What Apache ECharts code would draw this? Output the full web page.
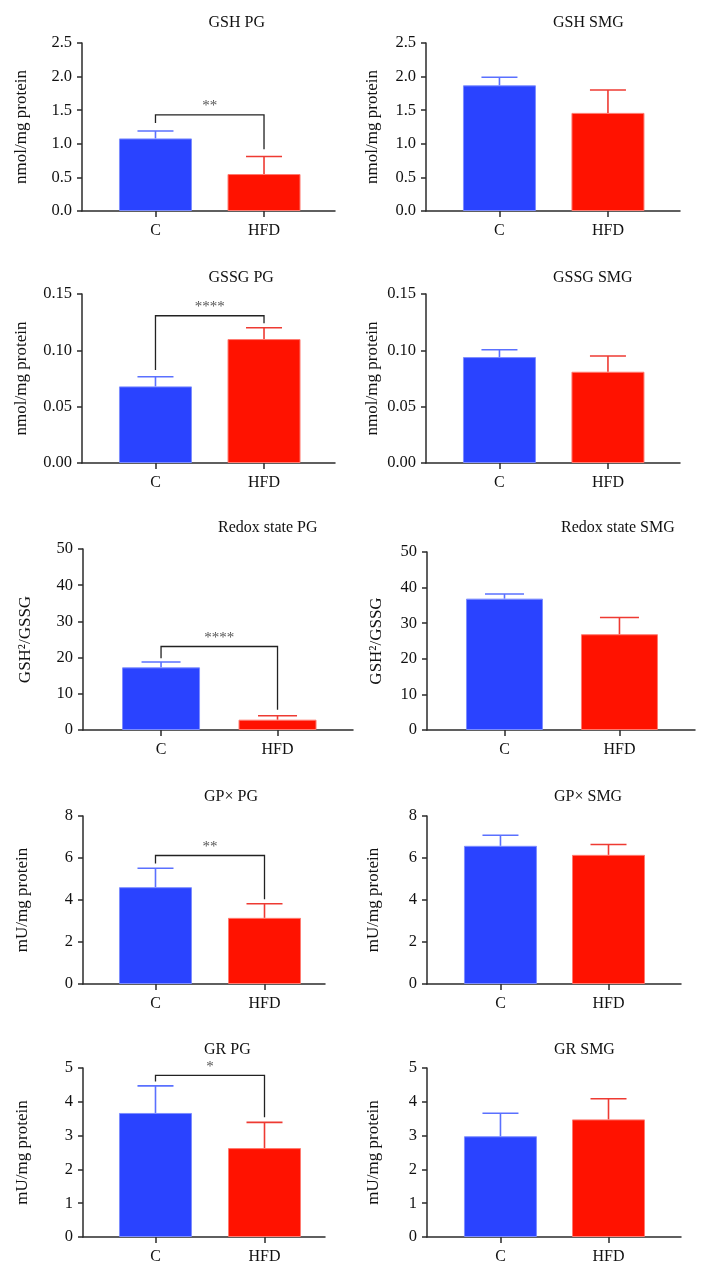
<!DOCTYPE html>
<html>
<head>
<meta charset="utf-8">
<script src="https://cdn.jsdelivr.net/npm/echarts@6/dist/echarts.min.js"></script>
<style>
html,body{margin:0;padding:0;background:#fff;}
#chart{width:706px;height:1271px;}
</style>
</head>
<body>
<div id="chart"></div>
<script>
// ---------- data ----------
const categories = ['C', 'HFD'];

const titles = ['GSH PG', 'GSH SMG', 'GSSG PG', 'GSSG SMG', 'Redox state PG', 'Redox state SMG',
                'GP\u00d7 PG', 'GP\u00d7 SMG', 'GR PG', 'GR SMG'];
const yNames = ['nmol/mg protein', 'nmol/mg protein', 'nmol/mg protein', 'nmol/mg protein',
                'GSH\u00b2/GSSG', 'GSH\u00b2/GSSG', 'mU/mg protein', 'mU/mg protein',
                'mU/mg protein', 'mU/mg protein'];

// means and upper error (SEM)
const gshPG = [1.08, 0.55],    gshPGErr = [0.11, 0.26];
const gshSMG = [1.87, 1.46],   gshSMGErr = [0.12, 0.34];
const gssgPG = [0.068, 0.110], gssgPGErr = [0.0085, 0.010];
const gssgSMG = [0.094, 0.081], gssgSMGErr = [0.0065, 0.014];
const redoxPG = [17.3, 2.85],  redoxPGErr = [1.5, 1.1];
const redoxSMG = [36.9, 26.9], redoxSMGErr = [1.3, 4.7];
const gpxPG = [4.61, 3.15],    gpxPGErr = [0.90, 0.67];
const gpxSMG = [6.58, 6.15],   gpxSMGErr = [0.50, 0.49];
const grPG = [3.67, 2.63],     grPGErr = [0.80, 0.76];
const grSMG = [2.98, 3.48],    grSMGErr = [0.68, 0.61];

// y-axis ticks: max, interval, decimals
const yMax =      [2.5, 2.5, 0.15, 0.15, 50, 50, 8, 8, 5, 5];
const yInterval = [0.5, 0.5, 0.05, 0.05, 10, 10, 2, 2, 1, 1];
const yDecimals = [1, 1, 2, 2, 0, 0, 0, 0, 0, 0];

// significance brackets: [left leg bottom, bracket top, right leg bottom]
const gshPGSig = [1.31, 1.43, 0.92];
const gssgPGSig = [0.0826, 0.1307, 0.124];
const redoxPGSig = [19.85, 23.07, 5.6];
const gpxPGSig = [5.74, 6.12, 4.04];
const grPGSig = [4.60, 4.78, 3.54];
const sigLabels = ['**', '****', '****', '**', '*'];

const values = [gshPG, gshSMG, gssgPG, gssgSMG, redoxPG, redoxSMG, gpxPG, gpxSMG, grPG, grSMG];
const errors = [gshPGErr, gshSMGErr, gssgPGErr, gssgSMGErr, redoxPGErr, redoxSMGErr, gpxPGErr, gpxSMGErr, grPGErr, grSMGErr];
const sigs = {0: [gshPGSig, sigLabels[0]], 2: [gssgPGSig, sigLabels[1]], 4: [redoxPGSig, sigLabels[2]],
              6: [gpxPGSig, sigLabels[3]], 8: [grPGSig, sigLabels[4]]};

// ---------- layout (pixels) ----------
const layout = [
  {left: 82,  top: 43,   width: 253, height: 168, xMin: -0.677, xMax: 1.654, barW: 73, cap: 36, gap: 52, ty: 15},
  {left: 426, top: 43,   width: 254, height: 168, xMin: -0.677, xMax: 1.664, barW: 73, cap: 36, gap: 45, ty: 15},
  {left: 82,  top: 294,  width: 253, height: 169, xMin: -0.677, xMax: 1.654, barW: 73, cap: 36, gap: 52, ty: 270},
  {left: 426, top: 294,  width: 254, height: 169, xMin: -0.677, xMax: 1.664, barW: 73, cap: 36, gap: 45, ty: 270},
  {left: 83,  top: 549,  width: 270, height: 181, xMin: -0.670, xMax: 1.648, barW: 78, cap: 39, gap: 49, ty: 520},
  {left: 427, top: 552,  width: 268, height: 178, xMin: -0.674, xMax: 1.657, barW: 77, cap: 39, gap: 42, ty: 520},
  {left: 83,  top: 816,  width: 242, height: 168, xMin: -0.665, xMax: 1.555, barW: 73, cap: 36, gap: 52, ty: 789},
  {left: 427, top: 816,  width: 254, height: 168, xMin: -0.680, xMax: 1.671, barW: 73, cap: 36, gap: 45, ty: 789},
  {left: 83,  top: 1068, width: 242, height: 169, xMin: -0.665, xMax: 1.555, barW: 73, cap: 36, gap: 52, ty: 1042},
  {left: 427, top: 1068, width: 254, height: 169, xMin: -0.680, xMax: 1.671, barW: 73, cap: 36, gap: 45, ty: 1042}
];

const FONT = 'Liberation Serif';
const fills = ['#2a43ff', '#ff1200'];
const edges = ['#7d8dff', '#ff7a70'];
const whisk = ['#5a70ff', '#ee3a32'];
const AX = '#2b2b2b';

const grid = [], xAxis = [], yAxis = [], series = [], graphic = [];

layout.forEach((L, i) => {
  grid.push({left: L.left, top: L.top, width: L.width, height: L.height, containLabel: false});
  xAxis.push({
    type: 'value', gridIndex: i, min: L.xMin, max: L.xMax,
    splitLine: {show: false},
    axisLine: {show: true, onZero: false, lineStyle: {color: AX, width: 1.5}},
    axisTick: {show: true, customValues: [0, 1], length: 6, lineStyle: {color: AX, width: 1.5}},
    axisLabel: {customValues: [0, 1], formatter: v => categories[Math.round(v)], margin: 12,
                fontFamily: FONT, fontSize: 16, color: '#111'}
  });
  yAxis.push({
    type: 'value', gridIndex: i, min: 0, max: yMax[i], interval: yInterval[i],
    name: yNames[i], nameLocation: 'middle', nameGap: L.gap,
    nameTextStyle: {fontFamily: FONT, fontSize: 17, color: '#111'},
    splitLine: {show: false},
    axisLine: {show: true, onZero: false, lineStyle: {color: AX, width: 1.5}},
    axisTick: {show: true, length: 5, lineStyle: {color: AX, width: 1.5}},
    axisLabel: {formatter: v => v.toFixed(yDecimals[i]), margin: 10,
                fontFamily: FONT, fontSize: 16.5, color: '#111'}
  });
  graphic.push({
    type: 'text', left: L.left + L.width / 2, top: L.ty, silent: true,
    style: {text: titles[i], font: '16px "' + FONT + '"', fill: '#111',
            textAlign: 'center', textVerticalAlign: 'middle'}
  });
  series.push({
    type: 'bar', xAxisIndex: i, yAxisIndex: i, barWidth: L.barW, z: 2,
    data: values[i].map((v, j) => ({value: [j, v],
      itemStyle: {color: fills[j], borderColor: edges[j], borderWidth: 1}}))
  });
  series.push({
    type: 'custom', xAxisIndex: i, yAxisIndex: i, z: 3,
    encode: {x: 0, y: 1},
    data: values[i].map((v, j) => [j, v, errors[i][j]]),
    renderItem: (params, api) => {
      const x = api.value(0), m = api.value(1), e = api.value(2);
      const lo = api.coord([x, m]), hi = api.coord([x, m + e]);
      const c = whisk[params.dataIndex];
      return {type: 'group', children: [
        {type: 'line', shape: {x1: lo[0], y1: lo[1], x2: hi[0], y2: hi[1]},
         style: {stroke: c, lineWidth: 1.6}},
        {type: 'line', shape: {x1: hi[0] - L.cap / 2, y1: hi[1], x2: hi[0] + L.cap / 2, y2: hi[1]},
         style: {stroke: c, lineWidth: 1.6}}
      ]};
    }
  });
  if (sigs[i]) {
    const s = sigs[i][0], lab = sigs[i][1];
    series.push({
      type: 'custom', xAxisIndex: i, yAxisIndex: i, z: 4,
      encode: {x: 0, y: 1},
      data: [[0, s[0], s[1], 1, s[2]]],
      renderItem: (params, api) => {
        const a = api.coord([api.value(0), api.value(1)]);
        const b = api.coord([api.value(0), api.value(2)]);
        const c = api.coord([api.value(3), api.value(2)]);
        const d = api.coord([api.value(3), api.value(4)]);
        return {type: 'group', children: [
          {type: 'polyline', shape: {points: [a, b, c, d]},
           style: {stroke: '#222', lineWidth: 1.3, fill: null}},
          {type: 'text', x: (b[0] + c[0]) / 2, y: b[1] - 1,
           style: {text: lab, font: '15px "' + FONT + '"', fill: '#555',
                   textAlign: 'center', textVerticalAlign: 'bottom'}}
        ]};
      }
    });
  }
});

const chart = echarts.init(document.getElementById('chart'), null, {renderer: 'canvas'});
chart.setOption({
  backgroundColor: '#ffffff',
  animation: false,
  grid, xAxis, yAxis, series, graphic
});
</script>
</body>
</html>
